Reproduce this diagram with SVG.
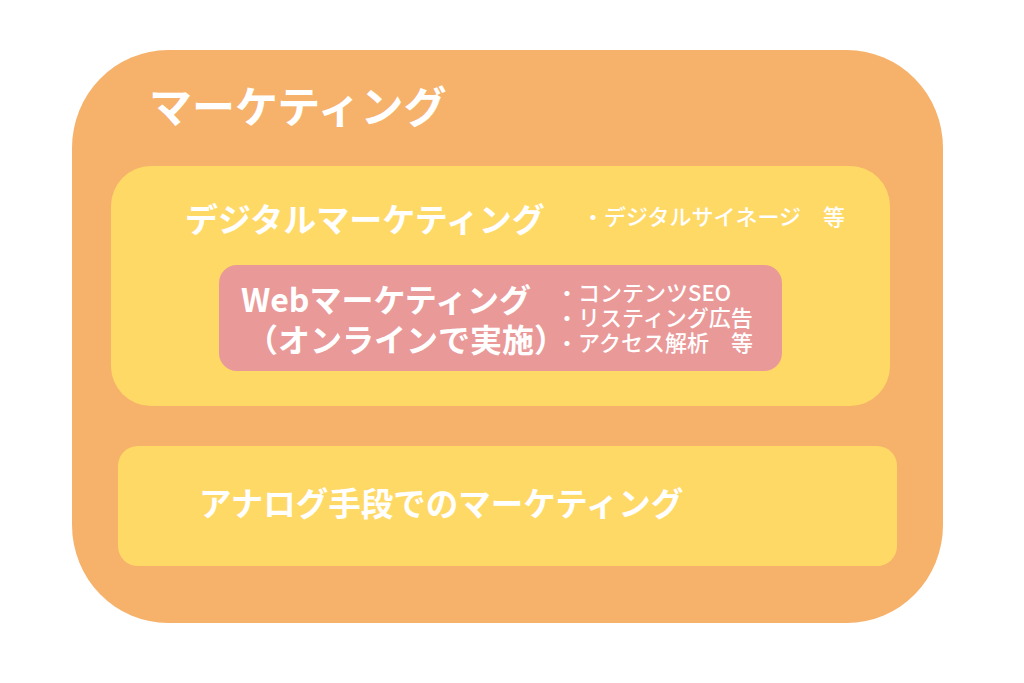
<svg xmlns="http://www.w3.org/2000/svg" width="1024" height="683" viewBox="0 0 1024 683">
<style>
.t{font-family:"Noto Sans CJK JP","Noto Sans",sans-serif;fill:#ffffff;font-weight:700}
.s{font-family:"Noto Sans CJK JP","Noto Sans",sans-serif;fill:#ffffff;font-weight:500}
</style>
<rect width="1024" height="683" fill="#ffffff"/>
<g id="marketing">
<rect x="72" y="50" width="871" height="573" rx="96" ry="98" fill="#F6B26B"/>
<text class="t" x="149" y="123" font-size="43">マーケティング</text>
</g>
<g id="digital">
<rect x="111" y="166" width="779" height="240" rx="40" ry="40" fill="#FFD966"/>
<text class="t" x="185" y="232" font-size="33">デジタルマーケティング</text>
<text class="s" x="582" y="225" font-size="22">・デジタルサイネージ　等</text>
</g>
<g id="web">
<rect x="219" y="265" width="563" height="106" rx="18" ry="18" fill="#EA9999"/>
<text class="t" x="241" y="312" font-size="32">Webマーケティング</text>
<text class="t" x="246" y="352" font-size="32">（オンラインで実施）</text>
<text class="s" x="556" y="301" font-size="22">・コンテンツSEO</text>
<text class="s" x="556" y="326" font-size="22">・リスティング広告</text>
<text class="s" x="556" y="351" font-size="22">・アクセス解析　等</text>
</g>
<g id="analog">
<rect x="118" y="446" width="779" height="120" rx="20" ry="20" fill="#FFD966"/>
<text class="t" x="199" y="516" font-size="32.5">アナログ手段でのマーケティング</text>
</g>
</svg>
